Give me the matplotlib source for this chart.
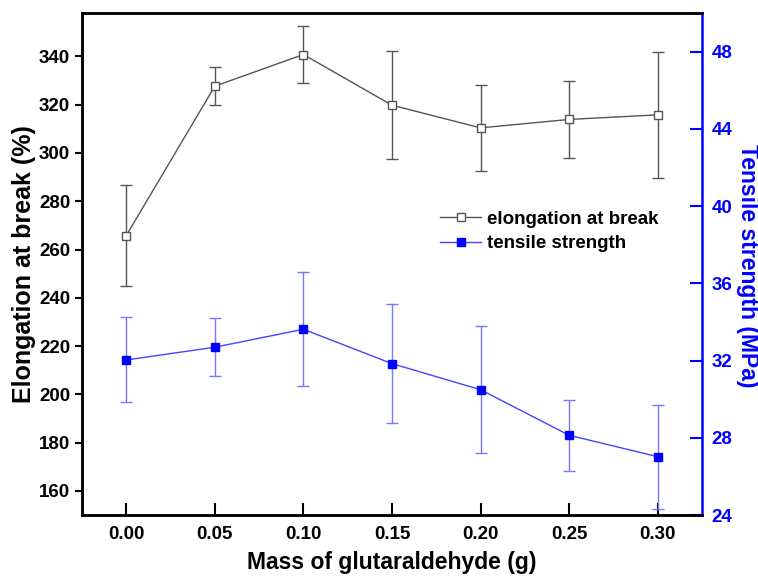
import numpy as np
import matplotlib.pyplot as plt

plt.rcParams['font.family'] = ['Liberation Sans', 'DejaVu Sans']
plt.rcParams['font.weight'] = 'bold'

# data
mass = [0.00, 0.05, 0.10, 0.15, 0.20, 0.25, 0.30]
elong = [265.8, 327.7, 340.8, 319.8, 310.4, 313.9, 315.8]
elong_err = [21.0, 8.0, 12.0, 22.3, 17.8, 16.0, 26.2]
tensile = [32.03, 32.69, 33.62, 31.84, 30.49, 28.13, 27.02]
tensile_err = [2.2, 1.5, 2.95, 3.1, 3.3, 1.83, 2.7]

blue = '#0000ff'
grey = '#555555'

fig = plt.figure(figsize=(7.58, 5.76), dpi=100)
ax = fig.add_axes([82/758, 61/576, 620/758, 502/576])
ax2 = ax.twinx()

ax.errorbar(mass, elong, yerr=elong_err, color=grey, lw=1, marker='s', ms=6,
            mfc='white', mec=grey, mew=1, capsize=4, elinewidth=1, capthick=1,
            label='elongation at break')
ax2.errorbar(mass, tensile, yerr=tensile_err, color='#4444ff', lw=1, marker='s', ms=6,
             mfc=blue, mec=blue, capsize=4, elinewidth=1, capthick=1, ecolor='#7777ff',
             label='tensile strength')

ax.set_xlim(-0.025, 0.325)
ax.set_ylim(150, 358)
ax2.set_ylim(24, 50)

ax.set_xticks(mass)
ax.set_xticklabels(['%.2f' % m for m in mass])
ax.set_yticks(np.arange(160, 341, 20))
ax2.set_yticks(np.arange(24, 49, 4))

ax.tick_params(axis='x', direction='in', length=9, width=1.5, labelsize=13.5, pad=8)
ax.tick_params(axis='y', direction='out', length=5, width=1.5, labelsize=13.5)
ax.tick_params(top=False)
ax2.tick_params(axis='y', direction='in', length=9, width=1.5, colors=blue,
                labelsize=13.5, pad=7)

for s in ['left', 'bottom', 'top']:
    ax.spines[s].set_linewidth(1.8)
    ax2.spines[s].set_linewidth(1.8)
ax2.spines['right'].set_color(blue)
ax2.spines['right'].set_linewidth(1.8)
ax.spines['right'].set_visible(False)

ax.set_xlabel('Mass of glutaraldehyde (g)', fontsize=16.5, fontweight='bold', labelpad=6)
ax.set_ylabel('Elongation at break (%)', fontsize=18, fontweight='bold', labelpad=2)
fig.text(747/758, 1 - 266/576, 'Tensile strength (MPa)', fontsize=16.5, fontweight='bold',
         color=blue, rotation=-90, ha='center', va='center')

h1, l1 = ax.get_legend_handles_labels()
h2, l2 = ax2.get_legend_handles_labels()
handles = [h[0] for h in h1 + h2]
leg = ax.legend(handles, l1 + l2, loc='upper left', bbox_to_anchor=(0.55, 0.64),
                frameon=False, fontsize=13.5, handlelength=2.2, handletextpad=0.3,
                labelspacing=0.4)

plt.savefig('out.png', dpi=100)
